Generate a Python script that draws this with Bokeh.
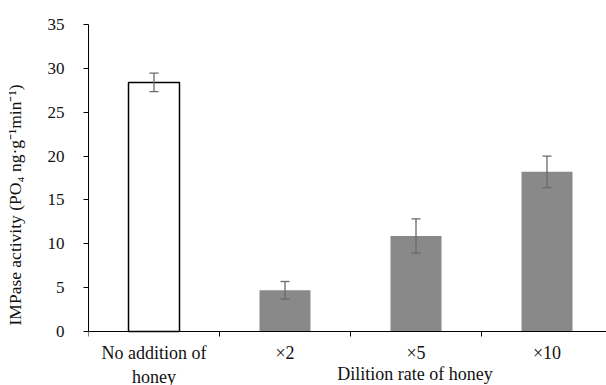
from bokeh.plotting import figure
from bokeh.models import (ColumnDataSource, Whisker, TeeHead, FixedTicker, Label,
                          Range1d)
from bokeh.embed import file_html
from bokeh.resources import INLINE

# ---- data ----
categories = ["No addition of\nhoney", "×2", "×5", "×10"]
values = [28.4, 4.7, 10.9, 18.2]
errors = [1.05, 1.0, 1.95, 1.8]
fill_colors = ["#ffffff", "#898989", "#898989", "#898989"]
outline_colors = ["#000000", "rgba(0,0,0,0)", "rgba(0,0,0,0)", "rgba(0,0,0,0)"]
y_ticks = [0, 5, 10, 15, 20, 25, 30, 35]
boundaries = [0, 1, 2, 3]

centers = [i + 0.5 for i in range(len(categories))]
src = ColumnDataSource(dict(
    x=centers, top=values,
    upper=[v + e for v, e in zip(values, errors)],
    lower=[v - e for v, e in zip(values, errors)],
    fill=fill_colors, line=outline_colors,
))

FONT = "Liberation Serif"
TXT = "#111111"

p = figure(width=606, height=385, output_backend="svg", toolbar_location=None,
           x_range=Range1d(0, 518 / 131), y_range=Range1d(-54 / (307 / 35), 35),
           min_border_left=88, min_border_right=0, min_border_top=24,
           min_border_bottom=0)
p.outline_line_color = None
p.xgrid.visible = False
p.ygrid.visible = False

p.vbar(x="x", top="top", width=51 / 131, bottom=0, source=src,
       fill_color="fill", line_color="line", line_width=1.5)

w = Whisker(base="x", upper="upper", lower="lower", source=src,
            level="annotation",
            line_color="#6a6a6a", line_width=1.3,
            upper_head=TeeHead(size=9, line_color="#6a6a6a", line_width=1.3),
            lower_head=TeeHead(size=9, line_color="#6a6a6a", line_width=1.3))
p.add_layout(w)

# x axis placed at y = 0, labels at category centres, boundary ticks as minor ticks
xa = p.xaxis[0]
xa.fixed_location = 0
xa.ticker = FixedTicker(ticks=centers, minor_ticks=boundaries)
xa.major_label_overrides = {c: lab for c, lab in zip(centers, categories)}
xa.major_tick_out = 0
xa.major_tick_in = 0
xa.minor_tick_out = 5
xa.minor_tick_in = 0
xa.minor_tick_line_color = "#000000"
xa.axis_line_color = "#000000"
xa.major_label_standoff = 6
xa.major_label_text_font = FONT
xa.major_label_text_font_size = "18px"
xa.major_label_text_color = TXT
xa.major_label_text_line_height = 1.2

ya = p.yaxis[0]
ya.bounds = (0, 35)
ya.ticker = FixedTicker(ticks=y_ticks, minor_ticks=[])
ya.major_tick_out = 5
ya.major_tick_in = 0
ya.minor_tick_out = 0
ya.minor_tick_in = 0
ya.axis_line_color = "#000000"
ya.major_tick_line_color = "#000000"
ya.major_label_standoff = 19
ya.major_label_text_font = FONT
ya.major_label_text_font_size = "17px"
ya.major_label_text_color = TXT
ya.axis_label = "IMPase activity (PO₄ ng·g⁻¹min⁻¹)"
ya.axis_label_text_font = FONT
ya.axis_label_text_font_size = "17.5px"
ya.axis_label_text_font_style = "normal"
ya.axis_label_text_color = TXT
ya.axis_label_standoff = 20

title = Label(x=2.51, y=-3.7, x_units="data", y_units="data",
              text="Dilition  rate of honey", text_align="center",
              text_baseline="top", text_font=FONT, text_font_size="18px",
              text_color=TXT)
p.add_layout(title)

open("out.html", "w").write(file_html(p, INLINE))
